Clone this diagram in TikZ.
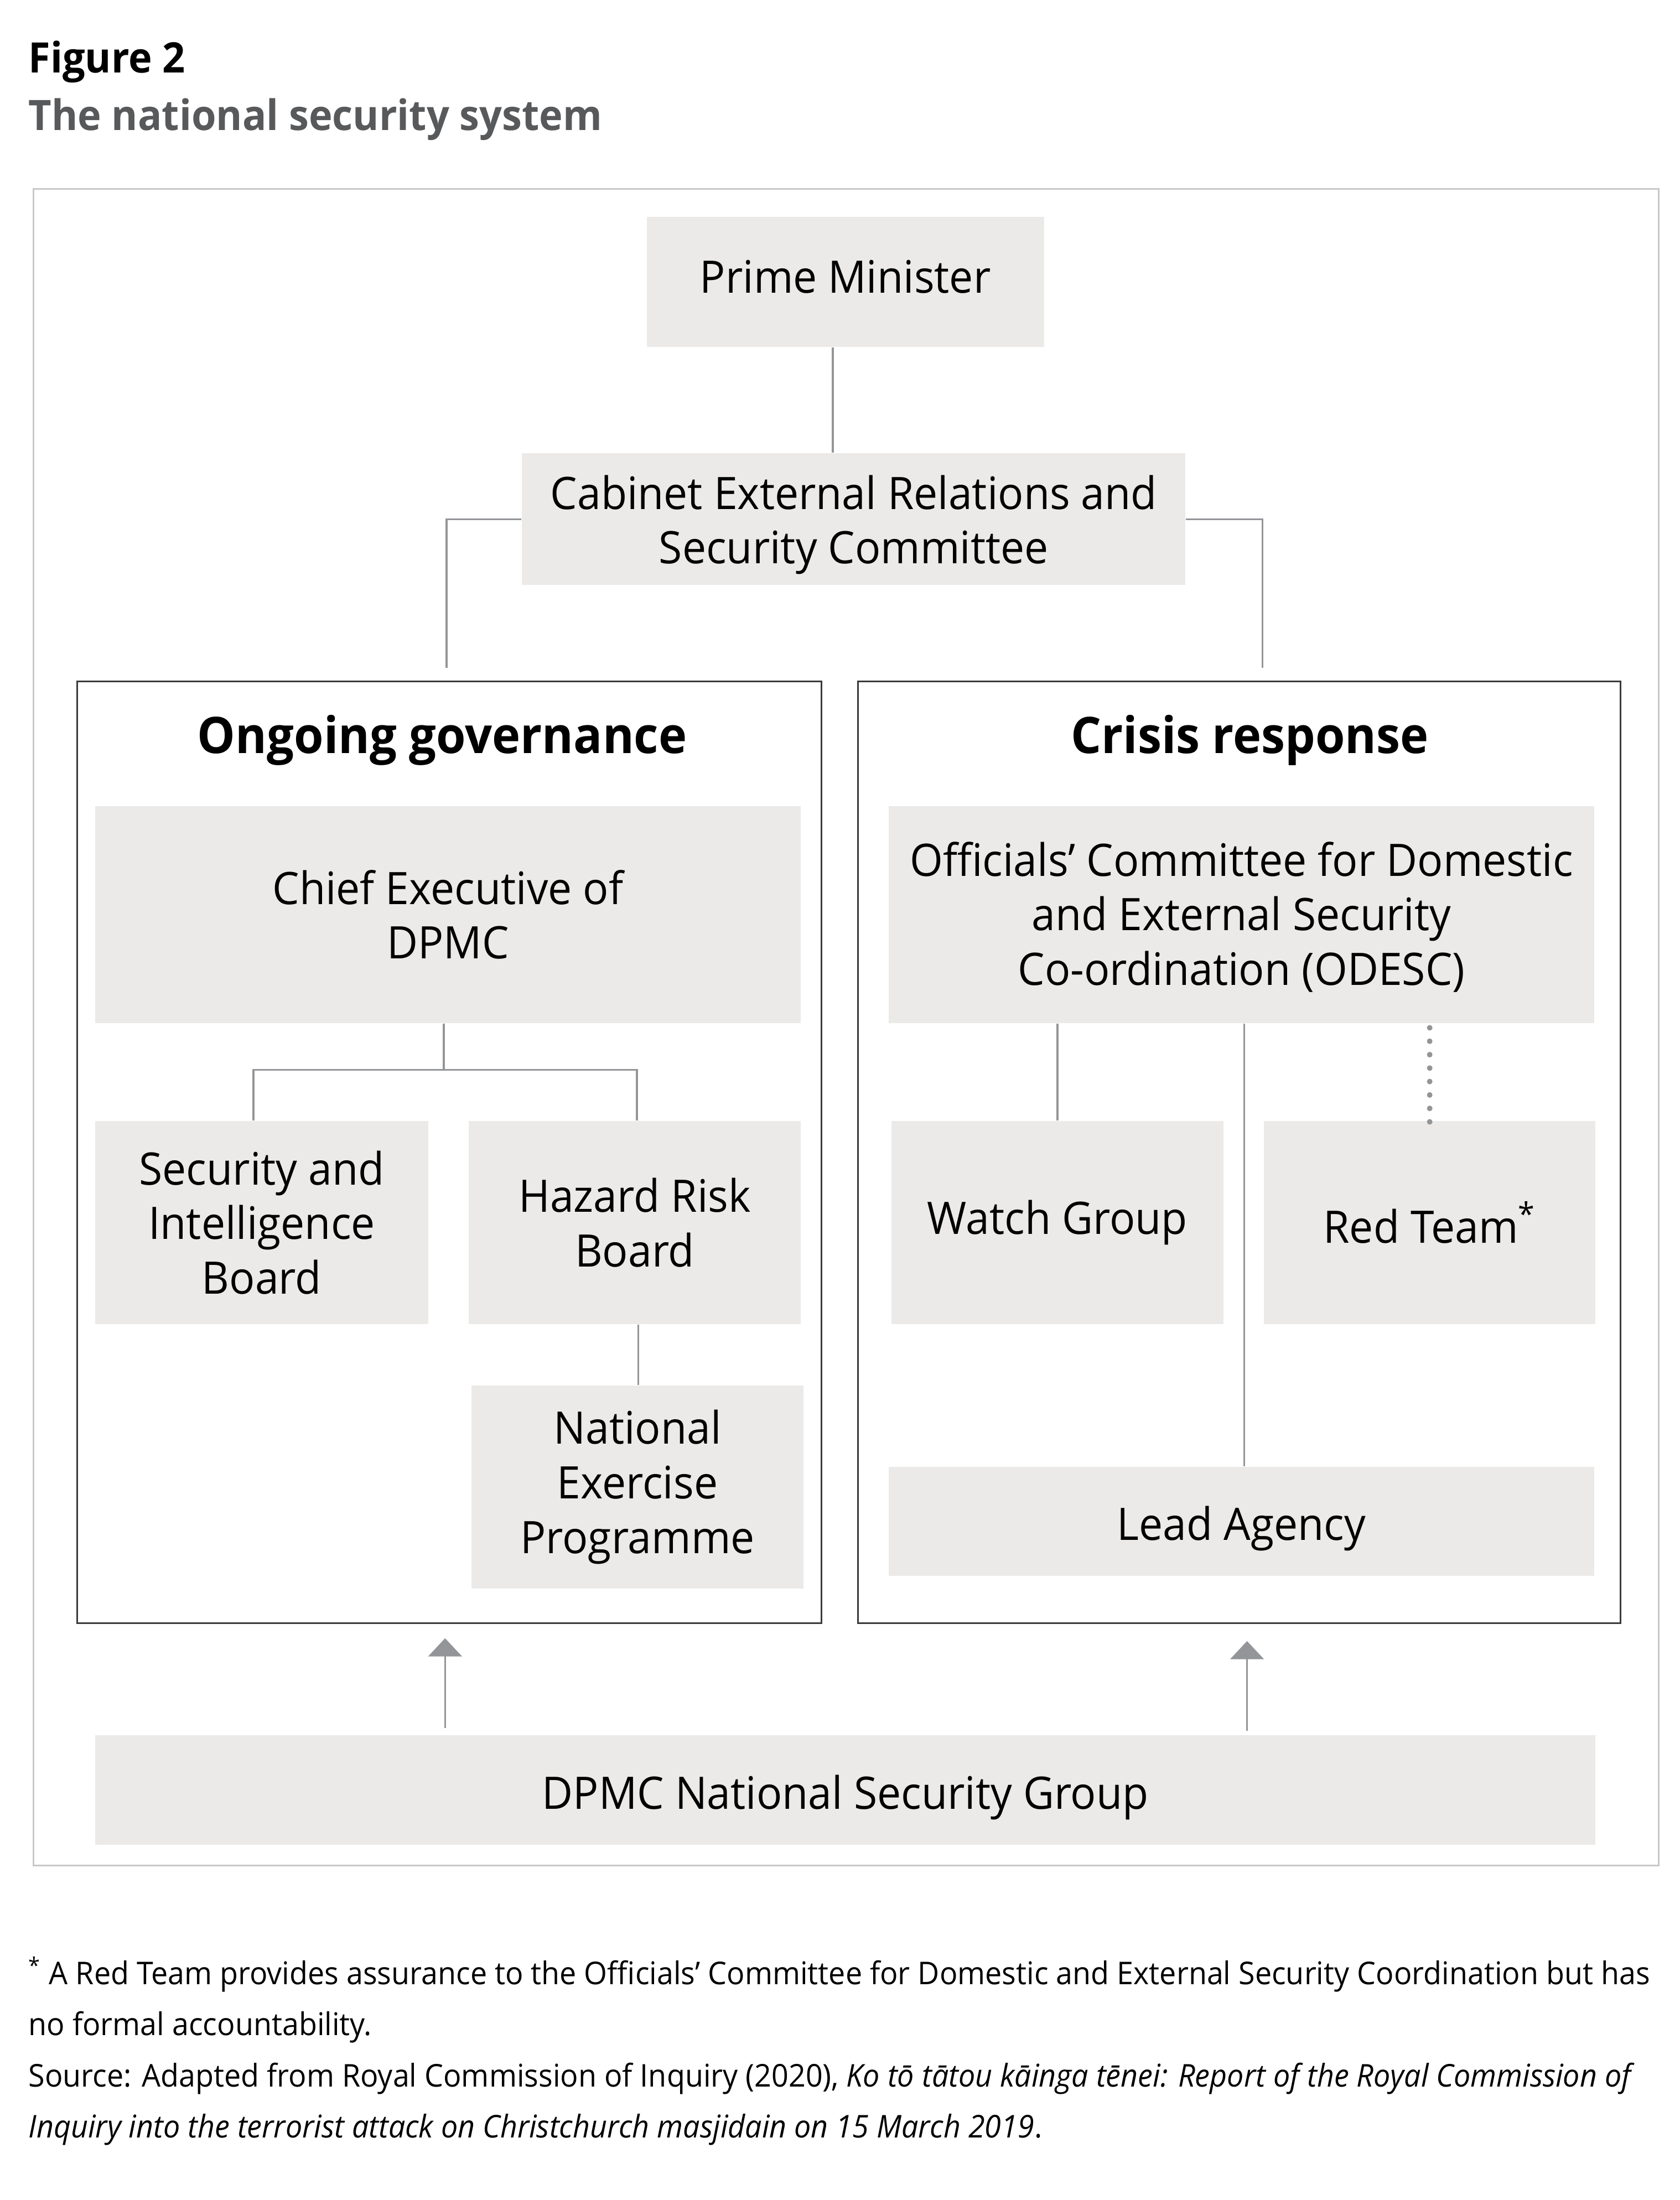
\documentclass[tikz,border=0pt]{standalone}
\usepackage{fontspec}
\setmainfont{Open Sans}[FakeStretch=0.95]
\usetikzlibrary{positioning}
\usetikzlibrary{calc}
\usetikzlibrary{arrows.meta}
\definecolor{boxgrey}{HTML}{EBEAE8}
\definecolor{linegrey}{HTML}{939598}
\definecolor{outergrey}{HTML}{C8C8C8}
\definecolor{titlegrey}{HTML}{58595B}
\definecolor{darkframe}{HTML}{3A3A3A}

\begin{document}
\begin{tikzpicture}[x=0.5pt,y=-0.5pt,>={Triangle[length=6.5pt,width=12pt]}]
	\tikzset{box/.style = {shape=rectangle, fill=boxgrey, inner sep=0pt, align=center, font=\fontsize{16}{19.5}\selectfont},
		groupframe/.style = {shape=rectangle, draw=darkframe, line width=0.6pt, inner sep=0pt},
		link/.style = {draw=linegrey, line width=0.7pt},
		grouptitle/.style = {font=\fontsize{18}{22}\bfseries\selectfont},
		notetext/.style = {anchor=base west, inner sep=0pt, font=\fontsize{11.2}{18}\selectfont}}
	\useasboundingbox (0,0) rectangle (1200,1572);
	
	% headings
	\node[anchor=base west, inner sep=0pt, font=\fontsize{15}{20}\bfseries\selectfont] (fig) at (20,52) {Figure 2};
	\node[anchor=base west, inner sep=0pt, text=titlegrey, font=\fontsize{15}{20}\bfseries\selectfont] (figtitle) at (20,93) {The national security system};
	
	\node[shape=rectangle, draw=outergrey, line width=0.6pt, minimum width=580.5pt, minimum height=599pt] (outer) at (604.5,734) {};
	
	% top of the system
	\node[box, minimum width=142pt, minimum height=46.5pt, text height=12pt, text depth=4pt] (pm) at (604,201.5) {Prime Minister};
	\node[box, minimum width=237pt, minimum height=47pt] (cab) at (610,371) {\rule{0pt}{16.2pt}Cabinet External Relations and\\Security Committee};
	
	% the two groups
	\node[groupframe, minimum width=266pt, minimum height=336.5pt] (gov) at (321,823.5) {};
	\node[grouptitle] (govtitle) at (316,529) {Ongoing governance};
	\node[groupframe, minimum width=272.5pt, minimum height=336.5pt] (crisis) at (885.5,823.5) {};
	\node[grouptitle] (crisistitle) at (893,529) {Crisis response};
	
	% ongoing governance
	\node[box, minimum width=252pt, minimum height=77.5pt] (ce) at (320,653.5) {Chief Executive of\\DPMC};
	\node[box, minimum width=119pt, minimum height=72.5pt] (sib) at (187,873.5) {Security and\\Intelligence\\Board};
	\node[box, minimum width=118.5pt, minimum height=72.5pt] (hrb) at (453.5,873.5) {Hazard Risk\\Board};
	\node[box, minimum width=118.5pt, minimum height=72.5pt] (nep) at (455.5,1062.5) {National\\Exercise\\Programme};
	
	% crisis response
	\node[box, minimum width=252pt, minimum height=77.5pt] (odesc) at (887,653.5) {\rule{0pt}{14pt}Officials’ Committee for Domestic\\and External Security\\Co-ordination (ODESC)};
	\node[box, minimum width=118.5pt, minimum height=72.5pt] (wg) at (755.5,873.5) {Watch Group};
	\node[box, minimum width=118.5pt, minimum height=72.5pt] (rt) at (1021.5,873.5) {Red Team\textsuperscript{*}};
	\node[box, minimum width=252pt, minimum height=39pt, text height=13.5pt, text depth=0pt] (lead) at (887,1087) {Lead Agency};
	
	\node[box, minimum width=536pt, minimum height=39pt, text height=13.5pt, text depth=0pt] (nsg) at (604,1279) {DPMC National Security Group};
	
	% connectors
	\draw[link] ([xshift=-4.5pt]pm.south) -- ([xshift=-4.5pt]pm.south |- cab.north);
	\draw[link] (cab.west) -| ([xshift=-1pt,yshift=4.5pt]gov.north);
	\draw[link] (cab.east) -| ([xshift=8.25pt,yshift=4.5pt]crisis.north);
	\coordinate (cesplit) at ($(ce.south)+(-3,33)$);
	\draw[link] ([xshift=-1.5pt]ce.south) -- (cesplit);
	\draw[link] ([xshift=-3pt]sib.north) |- (cesplit) -| ([xshift=0.75pt]hrb.north);
	\draw[link] ([xshift=1.25pt]hrb.south) -- ([xshift=1.25pt]hrb.south |- nep.north);
	\draw[link] (wg.north |- odesc.south) -- (wg.north);
	\draw[link] ([xshift=1pt]lead.north) -- ([xshift=1pt]lead.north |- odesc.south);
	\draw[draw=linegrey, line width=2pt, line cap=round, dash pattern=on 0pt off 4.8pt] ([yshift=-1.5pt]rt.north |- odesc.south) -- ([yshift=-0.5pt]rt.north);
	
	\draw[link, ->, shorten <=2.5pt, shorten >=5pt] ([xshift=-1.5pt]nsg.north -| gov.south) -- ([xshift=-1.5pt]gov.south);
	\draw[link, ->, shorten <=1.5pt, shorten >=6pt] ([xshift=2.75pt]nsg.north -| crisis.south) -- ([xshift=2.75pt]crisis.south);
	
	% notes
	\node[notetext] (note1) at (20,1418) {\textsuperscript{*} A Red Team provides assurance to the Officials’ Committee for Domestic and External Security Coordination but has};
	\node[notetext] (note2) at (20,1454.5) {no formal accountability.};
	\node[notetext] (src1) at (20,1491) {Source: Adapted from Royal Commission of Inquiry (2020), \textit{Ko tō tātou kāinga tēnei: Report of the Royal Commission of}};
	\node[notetext] (src2) at (20,1527.5) {\textit{Inquiry into the terrorist attack on Christchurch masjidain on 15 March 2019}.};
\end{tikzpicture}
\end{document}
